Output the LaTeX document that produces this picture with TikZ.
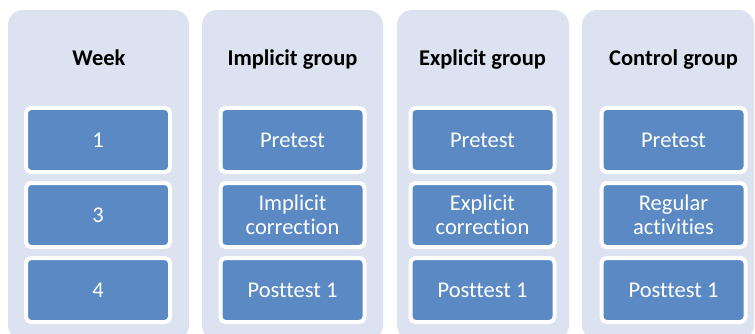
\documentclass[tikz,border=0pt]{standalone}
\usepackage{fontspec}
\setmainfont{Carlito}[Ligatures={NoCommon}]
\definecolor{panelfill}{RGB}{221,226,241}
\definecolor{stepblue}{RGB}{90,137,195}
\tikzset{
  panel/.style={fill=panelfill, rounded corners=15pt},
  header/.style={font=\fontsize{22.5}{26}\selectfont\bfseries, text=black, anchor=base},
  stepbox/.style={draw=white, line width=4pt, fill=stepblue, rounded corners=5pt,
    minimum width=144pt, minimum height=64pt, inner sep=0pt, align=center,
    text=white, font=\fontsize{22.5}{24}\selectfont},
}
\begin{document}
\begin{tikzpicture}[x=1pt, y=-1pt]
  \useasboundingbox (0,0) rectangle (755,334);
  \clip (0,0) rectangle (755,334);

  % column panels
  \fill[panel] (8,10) rectangle (189,340);
  \fill[panel] (202,10) rectangle (383,340);
  \fill[panel] (397,10) rectangle (569,340);
  \fill[panel] (582,10) rectangle (754,340);

  % column headings
  \node[header] (hweek) at (99,66) {Week};
  \node[header] (himp) at (292.5,66) {Implicit group};
  \node[header] (hexp) at (482.5,66) {Explicit group};
  \node[header] (hctl) at (673.5,66) {Control group};

  % week column
  \node[stepbox] (w1) at (98,140) {1};
  \node[stepbox] (w3) at (98,215) {3};
  \node[stepbox] (w4) at (98,290) {4};

  % implicit group
  \node[stepbox] (i1) at (292.5,140) {Pretest};
  \node[stepbox] (i2) at (292.5,215) {Implicit\\correction};
  \node[stepbox] (i3) at (292.5,290) {Posttest 1};

  % explicit group
  \node[stepbox] (e1) at (482.5,140) {Pretest};
  \node[stepbox] (e2) at (482.5,215) {Explicit\\correction};
  \node[stepbox] (e3) at (482.5,290) {Posttest 1};

  % control group
  \node[stepbox] (c1) at (673.5,140) {Pretest};
  \node[stepbox] (c2) at (673.5,215) {Regular\\activities};
  \node[stepbox] (c3) at (673.5,290) {Posttest 1};
\end{tikzpicture}
\end{document}
